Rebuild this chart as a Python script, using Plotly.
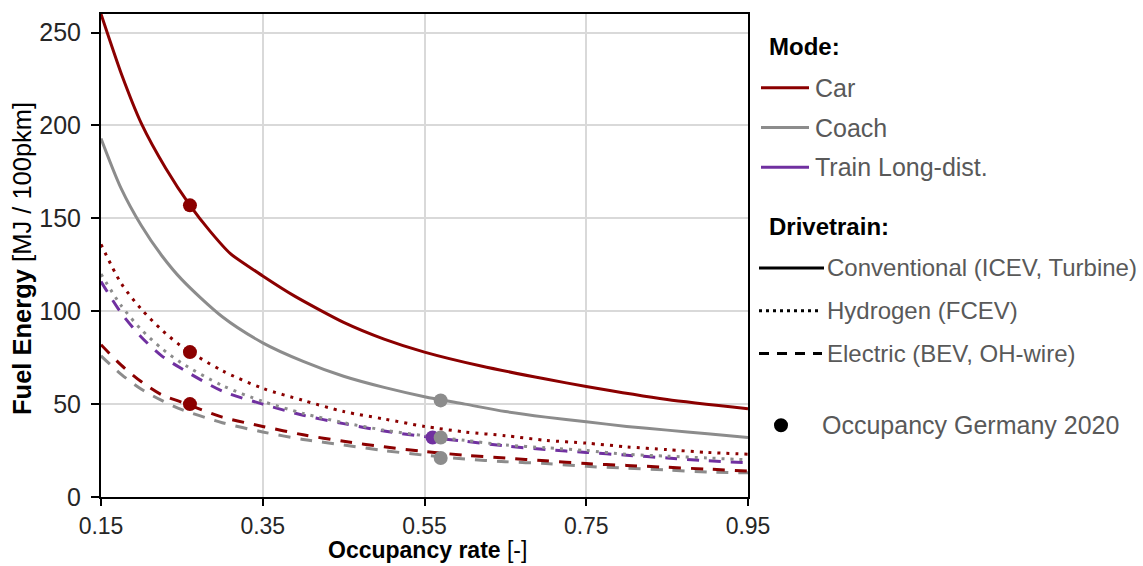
import plotly.graph_objects as go

# ---------------- data ----------------
x_grid = [0.15, 0.175, 0.2, 0.225, 0.25, 0.3, 0.35, 0.4, 0.45, 0.5, 0.55,
          0.6, 0.65, 0.7, 0.75, 0.8, 0.85, 0.9, 0.95]

x_car_conv = [0.15, 0.175, 0.2, 0.23, 0.26, 0.285, 0.31, 0.35, 0.39, 0.45,
              0.5, 0.55, 0.62, 0.7, 0.75, 0.85, 0.95]
car_conv = [260, 228, 201, 177, 157, 143, 131, 119, 108, 94,
            85, 78, 70.5, 63.5, 59.5, 52.5, 47.5]

coach_conv = [193, 166, 146, 130, 117, 97, 83, 73, 65, 59, 54,
              50, 46, 43, 40.5, 38, 36, 34, 32]
car_h2 = [136, 115, 101, 90, 81, 68, 58.5, 52, 46, 42, 38,
          35, 33, 30.5, 29, 27, 25.5, 24, 23]
coach_h2 = [120, 103, 90, 80, 72, 60, 51.5, 45, 40, 36, 33,
            30.5, 28, 26.5, 25, 23, 22, 21, 20]
train_el = [116, 99, 86, 76, 69, 57, 50, 44, 39.5, 35.5, 32.5,
            30, 27.5, 25.5, 24, 22.5, 21, 19.5, 18.5]
car_el = [82, 71, 62, 55, 51, 43, 38, 33.5, 30, 27, 24.5,
          22.5, 21, 19.5, 18, 17, 16, 15, 14]
coach_el = [76, 66, 58, 52, 47, 40, 35, 31, 28, 25, 22.5,
            20.5, 19, 18, 16.5, 15.5, 14.5, 13.5, 13]

# occupancy Germany 2020 points
occ_car_x = [0.26, 0.26, 0.26]
occ_car_y = [157, 78, 50]
occ_coach_x = [0.57, 0.57, 0.57]
occ_coach_y = [52, 32, 21]
occ_train_x = [0.56]
occ_train_y = [32]

x_ticks = [0.15, 0.35, 0.55, 0.75, 0.95]
x_tick_text = ["0.15", "0.35", "0.55", "0.75", "0.95"]
y_ticks = [0, 50, 100, 150, 200, 250]

mode_labels = ["Car", "Coach", "Train Long-dist."]
drive_labels = ["Conventional (ICEV, Turbine)", "Hydrogen (FCEV)", "Electric (BEV, OH-wire)"]
occ_label = "Occupancy Germany 2020"

# ---------------- style ----------------
RED = "#8B0000"
GRAY = "#8C8C8C"
PURPLE = "#7030A0"
FONT = "Liberation Sans, Arial, sans-serif"
TXT = "#595959"
LW = 3
DOT = "3px,6px"
DASH = "12px,10px"

W, H = 1143, 566
L, R, T, B = 101, 395, 12, 69
PW, PH = W - L - R, H - T - B


def px(xp):
    return (xp - L) / PW


def py(yp):
    return (H - B - yp) / PH


fig = go.Figure()


def line(x, y, color, dash=None, smoothing=0.8):
    fig.add_trace(go.Scatter(
        x=x, y=y, mode="lines", showlegend=False, hoverinfo="skip",
        line=dict(color=color, width=LW, dash=dash, shape="spline", smoothing=smoothing)))


line(x_grid, coach_el, GRAY, DASH)
line(x_grid, car_el, RED, DASH)
line(x_grid, train_el, PURPLE, DASH)
line(x_grid, coach_h2, GRAY, DOT)
line(x_grid, car_h2, RED, DOT)
line(x_grid, coach_conv, GRAY)
line(x_car_conv, car_conv, RED, smoothing=0.6)

for xs, ys, c in [(occ_train_x, occ_train_y, PURPLE),
                  (occ_coach_x, occ_coach_y, GRAY),
                  (occ_car_x, occ_car_y, RED)]:
    fig.add_trace(go.Scatter(x=xs, y=ys, mode="markers", showlegend=False,
                             hoverinfo="skip", marker=dict(color=c, size=14)))

fig.update_layout(
    width=W, height=H, margin=dict(l=L, r=R, t=T, b=B),
    paper_bgcolor="white", plot_bgcolor="white",
    font=dict(family=FONT, size=25, color="#262626"),
    xaxis=dict(range=[0.15, 0.95], tickvals=x_ticks, ticktext=x_tick_text,
               showgrid=True, gridcolor="#D9D9D9", gridwidth=2,
               showline=True, linecolor="black", linewidth=2, mirror=True,
               ticks="outside", ticklen=7, tickwidth=2, tickcolor="black",
               zeroline=False, tickfont=dict(size=23, color="#262626")),
    yaxis=dict(range=[0, 260], tickvals=y_ticks,
               showgrid=True, gridcolor="#D9D9D9", gridwidth=2,
               showline=True, linecolor="black", linewidth=2, mirror=True,
               ticks="outside", ticklen=8, tickwidth=2, tickcolor="black",
               zeroline=False, tickfont=dict(size=25, color="#262626"),
               ticklabelstandoff=5),
)

ann = []
# axis titles
ann.append(dict(x=px(427), y=py(550), xref="paper", yref="paper",
                text="<b>Occupancy rate</b> [-]", showarrow=False,
                font=dict(size=23, color="black"), xanchor="center", yanchor="middle"))
ann.append(dict(x=px(22), y=py(258), xref="paper", yref="paper",
                text="<b>Fuel Energy</b> [MJ / 100pkm]", showarrow=False, textangle=-90,
                font=dict(size=25.5, color="black"), xanchor="center", yanchor="middle"))

# legend headers
for txt, yy in [("Mode:", 45), ("Drivetrain:", 225)]:
    ann.append(dict(x=px(767), y=py(yy), xref="paper", yref="paper", text="<b>" + txt + "</b>",
                    showarrow=False, xanchor="left", yanchor="middle",
                    font=dict(size=24, color="black")))

shapes = []
mode_colors = [RED, GRAY, PURPLE]
for i, (lab, c) in enumerate(zip(mode_labels, mode_colors)):
    yy = 86 + 40 * i
    shapes.append(dict(type="line", xref="paper", yref="paper",
                       x0=px(761), x1=px(809), y0=py(yy), y1=py(yy),
                       line=dict(color=c, width=3)))
    ann.append(dict(x=px(813), y=py(yy), xref="paper", yref="paper", text=lab,
                    showarrow=False, xanchor="left", yanchor="middle",
                    font=dict(size=25, color=TXT)))

drive_dash = ["solid", "3px,4px", "10px,8px"]
drive_ends = [824, 818, 822]
for i, (lab, d, e) in enumerate(zip(drive_labels, drive_dash, drive_ends)):
    yy = 267 + 43 * i
    shapes.append(dict(type="line", xref="paper", yref="paper",
                       x0=px(759), x1=px(e), y0=py(yy), y1=py(yy),
                       line=dict(color="black", width=3, dash=d)))
    ann.append(dict(x=px(825), y=py(yy), xref="paper", yref="paper", text=lab,
                    showarrow=False, xanchor="left", yanchor="middle",
                    font=dict(size=24, color=TXT)))

shapes.append(dict(type="circle", xref="paper", yref="paper",
                   x0=px(774), x1=px(788), y0=py(418), y1=py(432),
                   fillcolor="black", line=dict(color="black", width=0)))
ann.append(dict(x=px(820), y=py(425), xref="paper", yref="paper", text=occ_label,
                showarrow=False, xanchor="left", yanchor="middle",
                font=dict(size=25, color=TXT)))

fig.update_layout(annotations=ann, shapes=shapes)
fig.write_html("out.html")
